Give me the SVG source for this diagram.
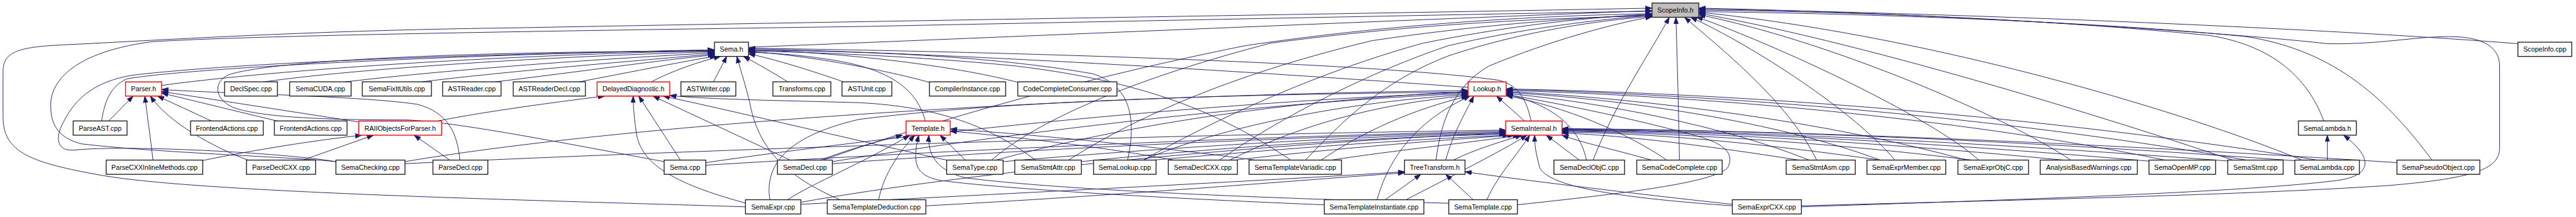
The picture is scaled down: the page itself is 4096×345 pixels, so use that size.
<svg xmlns="http://www.w3.org/2000/svg" width="4096" height="345" viewBox="0 0 4096 345">
<defs>
<style>
.n rect{fill:#fff;stroke:#202020;stroke-width:1.7}
.n.r rect{stroke:#ff0000}
.n.g rect{fill:#bfbfbf}
.n text{font-family:"Liberation Sans",Arial,sans-serif;font-size:13.3px;text-anchor:middle;fill:#000}
.e path{fill:none;stroke:#191970;stroke-width:1.15;marker-end:url(#ah)}
</style>
<marker id="ah" viewBox="0 0 14 10" markerWidth="14" markerHeight="10" refX="13" refY="5" orient="auto" markerUnits="userSpaceOnUse"><path d="M0,0.5 L13,5 L0,9.5 z" fill="#191970" stroke="#191970" stroke-width="1"/></marker>
</defs>
<rect x="0" y="0" width="4096" height="345" fill="#fff"/>
<g transform="scale(0.808)">
<g id="edges" class="e">
<path d="M1473,93 C2000,72 2800,38 3251,21"/>
<path d="M4955,86 C4500,50 3700,22 3343,18"/>
<path d="M4573,238 C4540,150 4470,90 4350,70 C4000,35 3600,22 3343,20"/>
<path d="M4786,315 C4700,200 4600,100 4420,72 C4100,40 3600,25 3343,23"/>
<path d="M3545,405 C3900,395 4400,385 4700,365 C4880,350 4919,330 4919,290 L4919,130 C4919,95 4890,72 4820,72 C4750,72 4680,88 4580,86 C4400,65 3800,25 3343,16"/>
<path d="M1467,407 C1100,395 400,380 200,345 C60,320 6,300 6,230 L6,140 C6,100 40,92 130,88 C300,80 600,60 1000,55 C1800,40 2800,25 3251,16"/>
<path d="M661,318 C560,308 300,300 160,283 C110,270 98,240 100,200 C105,150 160,100 300,82 C500,70 1000,62 1700,52 C2400,38 2900,28 3251,22"/>
<path d="M3135,315 C3180,200 3250,100 3285,34"/>
<path d="M3305,315 C3303,200 3300,100 3298,34"/>
<path d="M3575,315 C3520,200 3380,90 3315,34"/>
<path d="M3729,315 C3650,220 3450,90 3327,34"/>
<path d="M3894,315 C3800,230 3500,90 3338,33"/>
<path d="M4075,315 C3950,230 3600,80 3343,29"/>
<path d="M4394,315 C4200,250 3700,90 3343,26"/>
<path d="M4530,315 C4300,220 3800,70 3343,24"/>
<path d="M1951,315 C2050,230 2250,150 2500,85 C2800,45 3050,36 3251,31"/>
<path d="M2103,315 C2250,220 2450,140 2700,80 C2900,50 3100,35 3251,29"/>
<path d="M2250,315 C2400,230 2600,140 2800,85 C2950,55 3100,35 3251,28"/>
<path d="M2400,315 C2520,230 2700,140 2850,90 C3000,55 3150,38 3251,30"/>
<path d="M2569,315 C2640,240 2720,160 2850,110 C3000,60 3150,40 3251,32"/>
<path d="M2826,315 C2835,240 2860,170 2930,130 C3050,80 3180,45 3251,33"/>
<path d="M1620,315 C1800,250 2100,160 2450,90 C2750,45 3050,30 3251,27"/>
<path d="M318,168 C600,130 1100,105 1406,100"/>
<path d="M520,161 C700,135 1100,110 1406,102"/>
<path d="M680,161 C900,135 1200,115 1406,104"/>
<path d="M830,161 C1000,140 1250,120 1406,106"/>
<path d="M975,161 C1150,140 1300,118 1406,108"/>
<path d="M1140,161 C1250,140 1350,120 1410,110"/>
<path d="M1282,161 C1320,140 1380,120 1418,111"/>
<path d="M1404,161 C1412,145 1422,127 1430,111"/>
<path d="M1550,161 C1525,145 1490,125 1463,111"/>
<path d="M1660,161 C1600,140 1520,115 1473,106"/>
<path d="M1829,162 C1750,140 1600,110 1473,101"/>
<path d="M2003,162 C1900,135 1700,105 1473,98"/>
<path d="M2889,172 C2600,150 1900,105 1473,96"/>
<path d="M3013,238 C3005,200 2990,168 2950,158 C2700,122 1900,100 1473,95"/>
<path d="M1821,238 C1805,180 1760,140 1650,120 C1580,108 1520,104 1473,103"/>
<path d="M1653,393 C1530,340 1490,280 1475,200 C1465,160 1455,130 1450,111"/>
<path d="M200,238 C205,205 215,170 250,155 C400,130 1000,105 1406,98"/>
<path d="M661,318 C550,300 250,285 150,295 C110,300 108,270 125,240 C150,190 190,160 260,148 C500,120 1000,105 1406,99"/>
<path d="M1307,318 C1100,280 900,240 800,236 C650,236 520,232 460,212 C420,195 420,160 450,147 C550,115 1000,100 1406,101"/>
<path d="M2219,315 C2235,240 2230,170 2150,145 C1950,110 1700,100 1473,99"/>
<path d="M2540,315 C2400,220 2250,160 2000,130 C1800,110 1600,103 1473,100"/>
<path d="M214,238 L262,189"/>
<path d="M301,315 C296,270 290,230 285,189"/>
<path d="M488,315 C420,290 330,240 296,189"/>
<path d="M416,238 L310,189"/>
<path d="M545,238 L318,183"/>
<path d="M706,240 L318,180"/>
<path d="M905,315 C900,260 880,220 820,205 C700,188 450,185 318,176"/>
<path d="M398,316 C500,295 620,276 712,266"/>
<path d="M596,315 L735,266"/>
<path d="M885,315 L815,266"/>
<path d="M862,238 C950,220 1100,200 1190,189"/>
<path d="M1339,315 L1257,189"/>
<path d="M1469,400 C1320,360 1260,320 1252,260 C1248,230 1246,210 1246,189"/>
<path d="M1555,315 L1285,189"/>
<path d="M1863,315 C1700,280 1450,220 1305,189"/>
<path d="M2038,315 C1950,250 1850,210 1690,202 C1550,198 1400,196 1318,188"/>
<path d="M1900,315 L1850,266"/>
<path d="M1729,393 C1740,340 1770,300 1800,266"/>
<path d="M1550,393 C1600,360 1700,320 1790,266"/>
<path d="M1615,315 C1680,290 1740,275 1776,266"/>
<path d="M2606,403 C2400,395 2000,375 1850,355 C1800,345 1795,320 1808,266"/>
<path d="M2851,400 C2500,390 2100,375 1900,350 C1840,335 1825,300 1828,266"/>
<path d="M2310,315 C2150,285 1950,265 1870,258"/>
<path d="M2470,315 C2250,285 2000,262 1870,254"/>
<path d="M3000,238 L2945,189"/>
<path d="M2845,315 C2860,260 2885,220 2900,189"/>
<path d="M2710,393 C2730,320 2780,240 2893,189"/>
<path d="M2986,403 C3200,380 3370,360 3400,330 C3415,300 3390,280 3330,265 C3200,230 3050,200 2964,186"/>
<path d="M797,318 C1200,250 2000,190 2889,178"/>
<path d="M1389,320 C1800,260 2400,200 2889,182"/>
<path d="M1638,318 C2000,260 2500,200 2889,184"/>
<path d="M1515,393 C1505,330 1540,270 1690,235 C2000,195 2500,185 2889,181"/>
<path d="M2250,315 C2400,250 2650,200 2889,186"/>
<path d="M2420,315 C2550,250 2700,205 2889,188"/>
<path d="M2600,315 C2680,260 2780,215 2889,189"/>
<path d="M1960,315 C2200,250 2500,200 2889,180"/>
<path d="M3122,315 C3110,260 3070,210 2964,185"/>
<path d="M3280,315 C3200,260 3080,210 2964,188"/>
<path d="M3560,315 C3400,250 3150,200 2964,184"/>
<path d="M3700,315 C3500,240 3200,195 2964,182"/>
<path d="M3870,315 C3600,240 3250,195 2964,180"/>
<path d="M4260,315 C3900,240 3400,190 2964,178"/>
<path d="M4420,315 C4000,240 3450,188 2964,176"/>
<path d="M4560,315 C4100,240 3500,185 2964,175"/>
<path d="M797,322 C1500,290 2300,265 2963,256"/>
<path d="M1389,325 C1800,300 2400,270 2963,258"/>
<path d="M1638,322 C2000,295 2500,270 2963,260"/>
<path d="M1576,398 C1900,340 2500,280 2963,262"/>
<path d="M1974,318 C2300,290 2650,268 2963,262"/>
<path d="M2128,318 C2400,290 2700,270 2963,264"/>
<path d="M2270,315 C2500,295 2750,275 2970,266"/>
<path d="M2430,315 C2600,295 2800,278 2980,266"/>
<path d="M2620,315 C2750,295 2900,280 2990,266"/>
<path d="M2860,315 C2900,295 2950,280 2995,266"/>
<path d="M2767,393 C2850,350 2950,300 3005,266"/>
<path d="M2926,393 C2950,340 2990,300 3010,266"/>
<path d="M3409,405 C3200,390 3050,370 3030,330 C3022,300 3020,285 3020,266"/>
<path d="M3108,315 L3043,266"/>
<path d="M3250,315 C3180,295 3110,280 3074,266"/>
<path d="M3540,315 C3350,285 3180,265 3074,262"/>
<path d="M3700,315 C3450,280 3250,262 3074,260"/>
<path d="M3880,315 C3600,280 3300,262 3074,258"/>
<path d="M4060,315 C3700,280 3350,260 3074,257"/>
<path d="M4240,318 C3800,280 3400,258 3074,256"/>
<path d="M4400,318 C3900,280 3450,258 3074,255"/>
<path d="M4540,318 C4000,278 3500,256 3074,254"/>
<path d="M4717,320 C4100,280 3500,256 3074,253"/>
<path d="M1576,402 C2000,380 2500,355 2764,338"/>
<path d="M1822,405 C2200,385 2550,355 2764,340"/>
<path d="M2726,393 L2796,343"/>
<path d="M2899,393 L2845,343"/>
<path d="M3409,402 C3250,385 3000,355 2883,338"/>
<path d="M4580,315 L4580,266"/>
<path d="M3545,407 C3900,395 4400,380 4600,355 C4670,345 4670,310 4612,266"/>
</g>
<g id="n_ScopeInfo_h" class="n g"><rect x="3251" y="6" width="92" height="28"/><text x="3297" y="25">ScopeInfo.h</text></g>
<g id="n_Sema_h" class="n"><rect x="1406" y="83" width="67" height="28"/><text x="1439.5" y="102">Sema.h</text></g>
<g id="n_ScopeInfo_cpp" class="n"><rect x="4955" y="83" width="106" height="28"/><text x="5008" y="102">ScopeInfo.cpp</text></g>
<g id="n_Parser_h" class="n r"><rect x="247" y="161" width="71" height="28"/><text x="282.5" y="180">Parser.h</text></g>
<g id="n_DeclSpec_cpp" class="n"><rect x="442" y="161" width="104" height="28"/><text x="494" y="180">DeclSpec.cpp</text></g>
<g id="n_SemaCUDA_cpp" class="n"><rect x="570" y="161" width="121" height="28"/><text x="630.5" y="180">SemaCUDA.cpp</text></g>
<g id="n_SemaFixItUtils_cpp" class="n"><rect x="713" y="161" width="136" height="28"/><text x="781" y="180">SemaFixItUtils.cpp</text></g>
<g id="n_ASTReader_cpp" class="n"><rect x="871" y="161" width="115" height="28"/><text x="928.5" y="180">ASTReader.cpp</text></g>
<g id="n_ASTReaderDecl_cpp" class="n"><rect x="1010" y="161" width="142" height="28"/><text x="1081" y="180">ASTReaderDecl.cpp</text></g>
<g id="n_DelayedDiagnostic_h" class="n r"><rect x="1175" y="161" width="143" height="28"/><text x="1246.5" y="180">DelayedDiagnostic.h</text></g>
<g id="n_ASTWriter_cpp" class="n"><rect x="1340" y="161" width="108" height="28"/><text x="1394" y="180">ASTWriter.cpp</text></g>
<g id="n_Transforms_cpp" class="n"><rect x="1521" y="161" width="114" height="28"/><text x="1578" y="180">Transforms.cpp</text></g>
<g id="n_ASTUnit_cpp" class="n"><rect x="1657" y="161" width="98" height="28"/><text x="1706" y="180">ASTUnit.cpp</text></g>
<g id="n_CompilerInstance_cpp" class="n"><rect x="1829" y="161" width="150" height="28"/><text x="1904" y="180">CompilerInstance.cpp</text></g>
<g id="n_CodeCompleteConsumer_cpp" class="n"><rect x="2003" y="161" width="195" height="28"/><text x="2100.5" y="180">CodeCompleteConsumer.cpp</text></g>
<g id="n_Lookup_h" class="n r"><rect x="2889" y="161" width="75" height="28"/><text x="2926.5" y="180">Lookup.h</text></g>
<g id="n_ParseAST_cpp" class="n"><rect x="144" y="238" width="106" height="28"/><text x="197" y="257">ParseAST.cpp</text></g>
<g id="n_FrontendActions_cpp_1" class="n"><rect x="375" y="238" width="143" height="28"/><text x="446.5" y="257">FrontendActions.cpp</text></g>
<g id="n_FrontendActions_cpp_2" class="n"><rect x="540" y="238" width="143" height="28"/><text x="611.5" y="257">FrontendActions.cpp</text></g>
<g id="n_RAIIObjectsForParser_h" class="n r"><rect x="706" y="238" width="163" height="28"/><text x="787.5" y="257">RAIIObjectsForParser.h</text></g>
<g id="n_Template_h" class="n r"><rect x="1783" y="238" width="87" height="28"/><text x="1826.5" y="257">Template.h</text></g>
<g id="n_SemaInternal_h" class="n r"><rect x="2963" y="238" width="111" height="28"/><text x="3018.5" y="257">SemaInternal.h</text></g>
<g id="n_SemaLambda_h" class="n"><rect x="4523" y="238" width="114" height="28"/><text x="4580" y="257">SemaLambda.h</text></g>
<g id="n_ParseCXXInlineMethods_cpp" class="n"><rect x="209" y="315" width="190" height="28"/><text x="304" y="334">ParseCXXInlineMethods.cpp</text></g>
<g id="n_ParseDeclCXX_cpp" class="n"><rect x="485" y="315" width="136" height="28"/><text x="553" y="334">ParseDeclCXX.cpp</text></g>
<g id="n_SemaChecking_cpp" class="n"><rect x="661" y="315" width="136" height="28"/><text x="729" y="334">SemaChecking.cpp</text></g>
<g id="n_ParseDecl_cpp" class="n"><rect x="852" y="315" width="108" height="28"/><text x="906" y="334">ParseDecl.cpp</text></g>
<g id="n_Sema_cpp" class="n"><rect x="1307" y="315" width="82" height="28"/><text x="1348" y="334">Sema.cpp</text></g>
<g id="n_SemaDecl_cpp" class="n"><rect x="1530" y="315" width="108" height="28"/><text x="1584" y="334">SemaDecl.cpp</text></g>
<g id="n_SemaType_cpp" class="n"><rect x="1863" y="315" width="111" height="28"/><text x="1918.5" y="334">SemaType.cpp</text></g>
<g id="n_SemaStmtAttr_cpp" class="n"><rect x="1997" y="315" width="131" height="28"/><text x="2062.5" y="334">SemaStmtAttr.cpp</text></g>
<g id="n_SemaLookup_cpp" class="n"><rect x="2152" y="315" width="123" height="28"/><text x="2213.5" y="334">SemaLookup.cpp</text></g>
<g id="n_SemaDeclCXX_cpp" class="n"><rect x="2299" y="315" width="136" height="28"/><text x="2367" y="334">SemaDeclCXX.cpp</text></g>
<g id="n_SemaTemplateVariadic_cpp" class="n"><rect x="2458" y="315" width="182" height="28"/><text x="2549" y="334">SemaTemplateVariadic.cpp</text></g>
<g id="n_TreeTransform_h" class="n"><rect x="2764" y="315" width="119" height="28"/><text x="2823.5" y="334">TreeTransform.h</text></g>
<g id="n_SemaDeclObjC_cpp" class="n"><rect x="3058" y="315" width="139" height="28"/><text x="3127.5" y="334">SemaDeclObjC.cpp</text></g>
<g id="n_SemaCodeComplete_cpp" class="n"><rect x="3221" y="315" width="168" height="28"/><text x="3305" y="334">SemaCodeComplete.cpp</text></g>
<g id="n_SemaStmtAsm_cpp" class="n"><rect x="3515" y="315" width="136" height="28"/><text x="3583" y="334">SemaStmtAsm.cpp</text></g>
<g id="n_SemaExprMember_cpp" class="n"><rect x="3674" y="315" width="155" height="28"/><text x="3751.5" y="334">SemaExprMember.cpp</text></g>
<g id="n_SemaExprObjC_cpp" class="n"><rect x="3853" y="315" width="139" height="28"/><text x="3922.5" y="334">SemaExprObjC.cpp</text></g>
<g id="n_AnalysisBasedWarnings_cpp" class="n"><rect x="4015" y="315" width="191" height="28"/><text x="4110.5" y="334">AnalysisBasedWarnings.cpp</text></g>
<g id="n_SemaOpenMP_cpp" class="n"><rect x="4229" y="315" width="131" height="28"/><text x="4294.5" y="334">SemaOpenMP.cpp</text></g>
<g id="n_SemaStmt_cpp" class="n"><rect x="4384" y="315" width="109" height="28"/><text x="4438.5" y="334">SemaStmt.cpp</text></g>
<g id="n_SemaLambda_cpp" class="n"><rect x="4516" y="315" width="127" height="28"/><text x="4579.5" y="334">SemaLambda.cpp</text></g>
<g id="n_SemaPseudoObject_cpp" class="n"><rect x="4717" y="315" width="163" height="28"/><text x="4798.5" y="334">SemaPseudoObject.cpp</text></g>
<g id="n_SemaExpr_cpp" class="n"><rect x="1467" y="393" width="109" height="28"/><text x="1521.5" y="412">SemaExpr.cpp</text></g>
<g id="n_SemaTemplateDeduction_cpp" class="n"><rect x="1628" y="393" width="194" height="28"/><text x="1725" y="412">SemaTemplateDeduction.cpp</text></g>
<g id="n_SemaTemplateInstantiate_cpp" class="n"><rect x="2606" y="393" width="196" height="28"/><text x="2704" y="412">SemaTemplateInstantiate.cpp</text></g>
<g id="n_SemaTemplate_cpp" class="n"><rect x="2851" y="393" width="135" height="28"/><text x="2918.5" y="412">SemaTemplate.cpp</text></g>
<g id="n_SemaExprCXX_cpp" class="n"><rect x="3409" y="393" width="136" height="28"/><text x="3477" y="412">SemaExprCXX.cpp</text></g>
</g>
</svg>
